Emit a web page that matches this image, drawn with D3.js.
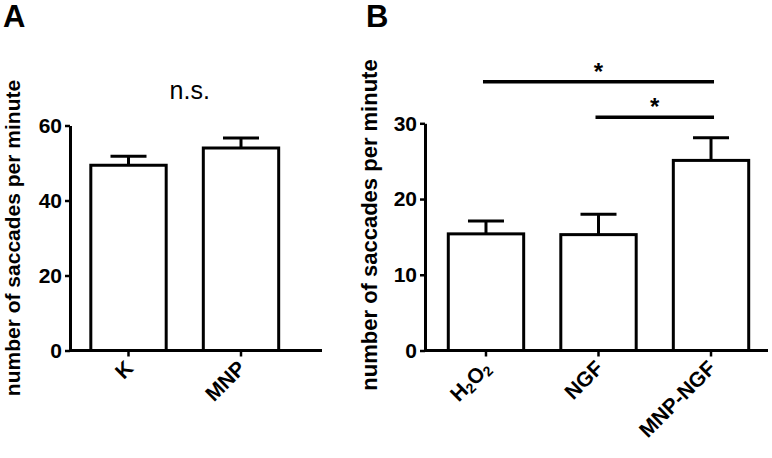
<!DOCTYPE html>
<html>
<head>
<meta charset="utf-8">
<script src="https://cdn.jsdelivr.net/npm/d3@7"></script>
<style>
  html, body { margin: 0; padding: 0; background: #fff; }
  svg { display: block; font-family: "Liberation Sans", Arial, sans-serif; }
</style>
</head>
<body>
<svg id="chart" width="772" height="458"></svg>
<script>
// Panel A
const catsA = ["K", "MNP"];
const meansA = [49.4, 54.0];
const semA = [2.4, 2.7];
const ticksA = [0, 20, 40, 60];
const noteA = "n.s.";
const noteAValue = 67.2;

// Panel B
const catsB = ["H2O2", "NGF", "MNP-NGF"];
const meansB = [15.4, 15.3, 25.1];
const semB = [1.7, 2.7, 3.0];
const ticksB = [0, 10, 20, 30];
const sigPairsB = [["H2O2", "MNP-NGF"], ["NGF", "MNP-NGF"]];
const sigLevelsB = [35.5, 30.8];
const sigLabelsB = ["*", "*"];

const yLabel = "number of saccades per minute";

const svg = d3.select("#chart");
const c45 = Math.SQRT1_2;

/** draws one bar panel with its own scales and axes */
function panel(opt) {
  const g = svg.append("g");

  const x = d3.scaleBand()
    .domain(opt.cats)
    .range(opt.xRange)
    .paddingInner(0.33)
    .paddingOuter(opt.outer);

  const y = d3.scaleLinear()
    .domain([0, d3.max(opt.ticks)])
    .range([opt.y0, opt.yTop]);

  const data = opt.cats.map((c, i) => ({cat: c, mean: opt.means[i], sem: opt.sem[i]}));

  // error bars (up only)
  g.selectAll(".err")
    .data(data)
    .join("g")
    .attr("stroke", "#000")
    .attr("stroke-width", 3)
    .each(function(d) {
      const cx = x(d.cat) + x.bandwidth() / 2;
      const e = d3.select(this);
      e.append("line")
        .attr("x1", cx).attr("x2", cx)
        .attr("y1", y(d.mean)).attr("y2", y(d.mean + d.sem));
      e.append("line")
        .attr("x1", cx - 18).attr("x2", cx + 18)
        .attr("y1", y(d.mean + d.sem)).attr("y2", y(d.mean + d.sem));
    });

  g.selectAll(".bar")
    .data(data)
    .join("rect")
    .attr("x", (d) => x(d.cat))
    .attr("y", (d) => y(d.mean))
    .attr("width", x.bandwidth())
    .attr("height", (d) => y(0) - y(d.mean))
    .attr("fill", "#fff")
    .attr("stroke", "#000")
    .attr("stroke-width", 3);

  // y axis
  g.append("g")
    .attr("transform", `translate(${opt.xAxis},0)`)
    .call(d3.axisLeft(y).tickValues(opt.ticks).tickSize(5).tickSizeOuter(0).tickPadding(3))
    .call((a) => a.select(".domain").attr("stroke-width", 3))
    .call((a) => a.selectAll(".tick line").attr("stroke-width", 2.5))
    .call((a) => a.selectAll(".tick text")
      .attr("font-size", 21).attr("font-weight", "bold").attr("fill", "#000"));

  // x axis: ticks from d3, labels placed in rotated groups
  const xa = g.append("g")
    .attr("transform", `translate(0,${opt.y0})`)
    .call(d3.axisBottom(x).tickSize(6).tickSizeOuter(0));
  xa.select(".domain").remove();
  xa.selectAll(".tick text").remove();
  xa.append("line")
    .attr("x1", opt.xAxis).attr("x2", opt.xEnd)
    .attr("stroke", "#000").attr("stroke-width", 3);
  xa.selectAll(".tick line").attr("stroke-width", 2.5);

  g.selectAll(".xlab")
    .data(opt.cats)
    .join("text")
    .attr("transform", (d) =>
      `matrix(${c45},${-c45},${c45},${c45},${x(d) + x.bandwidth() / 2 + 6},${opt.y0 + 19})`)
    .attr("text-anchor", "end")
    .attr("font-size", 21).attr("font-weight", "bold").attr("fill", "#000")
    .each(function(d) {
      const t = d3.select(this);
      if (d === "H2O2") {
        t.append("tspan").text("H");
        t.append("tspan").attr("font-size", 14).attr("dy", 3).text("2");
        t.append("tspan").attr("dy", -3).text("O");
        t.append("tspan").attr("font-size", 14).attr("dy", 3).text("2");
      } else {
        t.text(d);
      }
    });

  // y label
  g.append("text")
    .attr("transform", `translate(${opt.labelX},${opt.labelY}) rotate(-90)`)
    .attr("text-anchor", "middle")
    .attr("font-size", opt.labelSize)
    .attr("font-weight", "bold")
    .text(yLabel);

  // panel letter
  g.append("text")
    .attr("x", opt.letterX).attr("y", 27)
    .attr("font-size", 31).attr("font-weight", "bold")
    .text(opt.letter);

  return {g, x, y};
}

const A = panel({
  cats: catsA, means: meansA, sem: semA, ticks: ticksA,
  xRange: [70, 299.5], outer: 0.185, xAxis: 70, xEnd: 322,
  y0: 350.5, yTop: 125.5,
  labelX: 20, labelY: 238, labelSize: 21,
  letter: "A", letterX: 3,
});

A.g.append("text")
  .attr("x", (A.x(catsA[0]) + A.x(catsA[1]) + A.x.bandwidth()) / 2 + 5)
  .attr("y", A.y(noteAValue))
  .attr("text-anchor", "middle")
  .attr("font-size", 25)
  .text(noteA);

const B = panel({
  cats: catsB, means: meansB, sem: semB, ticks: ticksB,
  xRange: [425, 772], outer: 0.207, xAxis: 425, xEnd: 768,
  y0: 350.5, yTop: 123.3,
  labelX: 377, labelY: 225, labelSize: 22,
  letter: "B", letterX: 366,
});

// significance brackets
sigPairsB.forEach((p, i) => {
  const x1 = B.x(p[0]) + B.x.bandwidth() / 2;
  const x2 = B.x(p[1]) + B.x.bandwidth() / 2;
  const yy = B.y(sigLevelsB[i]);
  B.g.append("line")
    .attr("x1", x1 - 3).attr("x2", x2 + 3)
    .attr("y1", yy).attr("y2", yy)
    .attr("stroke", "#000").attr("stroke-width", 3.5);
  B.g.append("text")
    .attr("x", (x1 + x2) / 2)
    .attr("y", yy - 2)
    .attr("text-anchor", "middle")
    .attr("font-size", 24).attr("font-weight", "bold")
    .text(sigLabelsB[i]);
});
</script>
</body>
</html>
